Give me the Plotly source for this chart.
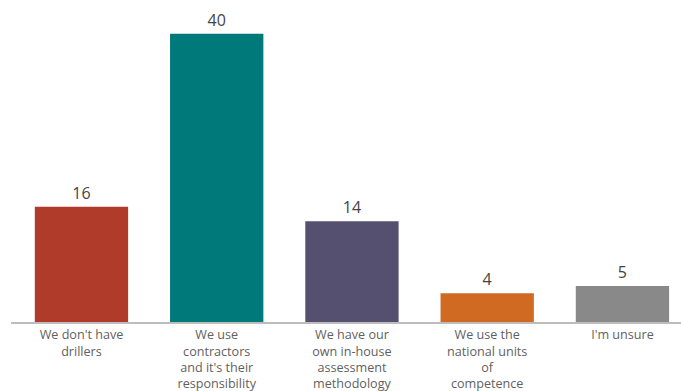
import plotly.graph_objects as go

categories = [
    "We don't have<br>drillers",
    "We use<br>contractors<br>and it's their<br>responsibility",
    "We have our<br>own in-house<br>assessment<br>methodology",
    "We use the<br>national units<br>of<br>competence",
    "I'm unsure",
]
values = [16, 40, 14, 4, 5]
colors = ["#B13B2A", "#00797A", "#55506F", "#D06A22", "#898989"]

fig = go.Figure(
    go.Bar(
        x=categories,
        y=values,
        marker=dict(color=colors, line=dict(width=0)),
        width=0.69,
        text=[str(v) for v in values],
        textposition="outside",
        textfont=dict(family="Open Sans", size=16, color="#444444"),
        cliponaxis=False,
    )
)

fig.update_layout(
    width=681,
    height=391,
    margin=dict(l=11, r=0, t=5, b=69),
    paper_bgcolor="white",
    plot_bgcolor="white",
    showlegend=False,
    font=dict(family="Open Sans", color="#555555"),
)
fig.update_xaxes(
    type="category",
    range=[-0.521, 4.433],
    showline=True,
    linecolor="#BDBDBD",
    linewidth=2,
    ticks="",
    tickfont=dict(size=12.6, color="#5F5F5F"),
    showgrid=False,
)
fig.update_yaxes(
    range=[0, 44],
    visible=False,
    showgrid=False,
    zeroline=False,
)

fig.write_html("out.html")
